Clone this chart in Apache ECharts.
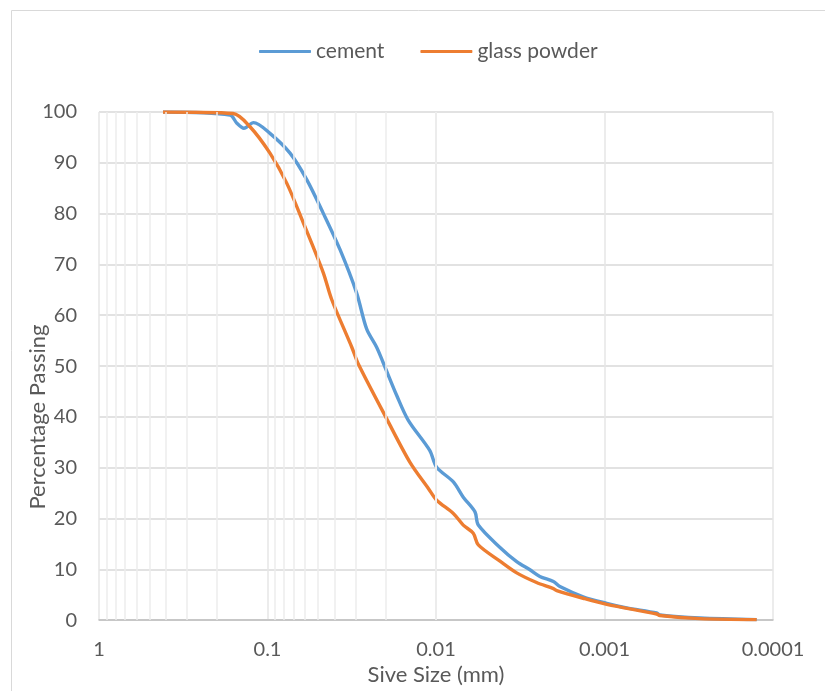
<!DOCTYPE html>
<html>
<head>
<meta charset="utf-8">
<script src="https://cdn.jsdelivr.net/npm/echarts@6/dist/echarts.min.js"></script>
<style>
html, body { margin: 0; padding: 0; background: #fff; }
#chart { width: 825px; height: 691px; }
</style>
</head>
<body>
<div id="chart"></div>
<script>
// sieve sizes (mm) and percentage passing
var cementSize = [0.417, 0.167, 0.152, 0.138, 0.121, 0.0967, 0.0735, 0.0585, 0.0467, 0.0371, 0.0296, 0.0258, 0.0225, 0.0206, 0.0171, 0.0146, 0.0109, 0.00991, 0.00789, 0.00689, 0.00587, 0.00561, 0.00417, 0.00332, 0.00277, 0.00242, 0.00201, 0.00184, 0.00134, 0.00097, 0.000738, 0.00049, 0.000469, 0.000271, 0.000125];
var cementPass = [100, 99.4, 97.8, 96.8, 97.9, 95.8, 91.9, 86.7, 80.1, 72.9, 64.4, 57.3, 53.7, 50.7, 44.2, 39.3, 33.4, 30.1, 27.2, 24.2, 21.3, 18.7, 14.3, 11.5, 9.9, 8.6, 7.6, 6.6, 4.6, 3.3, 2.4, 1.4, 1.0, 0.4, 0.1];

var glassSize = [0.417, 0.160, 0.127, 0.0967, 0.0769, 0.0613, 0.0467, 0.0416, 0.0316, 0.0289, 0.0196, 0.0143, 0.0111, 0.00991, 0.00789, 0.00689, 0.00601, 0.00561, 0.00417, 0.00332, 0.00253, 0.00201, 0.00192, 0.00134, 0.00097, 0.00049, 0.000469, 0.000271, 0.000125];
var glassPass = [100, 99.7, 97.1, 91.9, 86.0, 78.2, 68.4, 63.1, 53.7, 50.4, 39.6, 31.1, 25.9, 23.6, 21.0, 18.7, 17.1, 14.8, 11.6, 9.3, 7.4, 6.2, 5.8, 4.3, 3.1, 1.2, 0.9, 0.3, 0.1];

var xTickLabels = { '1': '1', '0.1': '0.1', '0.01': '0.01', '0.001': '0.001', '0.0001': '0.0001' };

// minor gridlines 2..9 within each decade
var minorGrid = [];
[0.0001, 0.001, 0.01, 0.1].forEach(function (d) {
    for (var k = 2; k <= 9; k++) {
        minorGrid.push(+(d * k).toPrecision(3));
    }
});

var fontFam = 'Lato, "Open Sans", sans-serif';
var chart = echarts.init(document.getElementById('chart'));

function pairs(xs, ys) {
    return xs.map(function (x, i) { return [x, ys[i]]; });
}

var option = {
    animation: false,
    textStyle: { fontFamily: fontFam },
    legend: {
        top: 36,
        left: 254,
        itemWidth: 52,
        itemHeight: 3,
        itemGap: 36,
        icon: 'roundRect',
        textStyle: { fontSize: 21, color: '#595959', fontFamily: fontFam },
        data: ['cement', 'glass powder']
    },
    graphic: [
        {
            type: 'polyline',
            shape: { points: [[11.5, 691], [11.5, 10.5], [825, 10.5]] },
            style: { stroke: '#d9d9d9', lineWidth: 1, fill: null },
            silent: true
        },
        {
            type: 'text',
            x: 38,
            y: 417,
            rotation: Math.PI / 2,
            style: {
                text: 'Percentage Passing',
                fill: '#595959',
                font: '22px ' + fontFam,
                align: 'center',
                verticalAlign: 'middle'
            }
        }
    ],
    grid: { left: 99, right: 52, top: 112, bottom: 69 },
    xAxis: {
        type: 'log',
        logBase: 10,
        inverse: true,
        min: 0.0001,
        max: 1,
        name: 'Sive Size (mm)',
        nameLocation: 'middle',
        nameGap: 42,
        nameTextStyle: { fontSize: 22, color: '#595959' },
        axisLine: { show: true, lineStyle: { color: '#bfbfbf', width: 1.5 } },
        axisTick: { show: false },
        axisLabel: {
            fontSize: 20,
            color: '#595959',
            margin: 19,
            formatter: function (v) {
                var key = String(+v.toPrecision(3));
                return xTickLabels[key] !== undefined ? xTickLabels[key] : '';
            }
        },
        splitLine: { show: true, lineStyle: { color: '#e6e6e6', width: 1.5 } }
    },
    yAxis: {
        type: 'value',
        min: 0,
        max: 100,
        interval: 10,
        axisLine: { show: false },
        axisTick: { show: false },
        axisLabel: { fontSize: 20, color: '#595959', margin: 22 },
        splitLine: { show: true, lineStyle: { color: '#d9d9d9', width: 1.5 } }
    },
    series: [
        {
            name: 'grid-minor',
            type: 'line',
            data: [],
            silent: true,
            markLine: {
                silent: true,
                symbol: 'none',
                label: { show: false },
                lineStyle: { color: '#ececec', width: 1.5, type: 'solid' },
                data: minorGrid.map(function (v) { return { xAxis: v }; })
            }
        },
        {
            name: 'cement',
            type: 'line',
            data: pairs(cementSize, cementPass),
            smooth: 0.3,
            showSymbol: false,
            z: 3,
            lineStyle: { color: '#5b9bd5', width: 3.4 },
            itemStyle: { color: '#5b9bd5' }
        },
        {
            name: 'glass powder',
            type: 'line',
            data: pairs(glassSize, glassPass),
            smooth: 0.3,
            showSymbol: false,
            z: 4,
            lineStyle: { color: '#ed7d31', width: 3.4 },
            itemStyle: { color: '#ed7d31' }
        }
    ]
};

chart.setOption(option);
</script>
</body>
</html>
